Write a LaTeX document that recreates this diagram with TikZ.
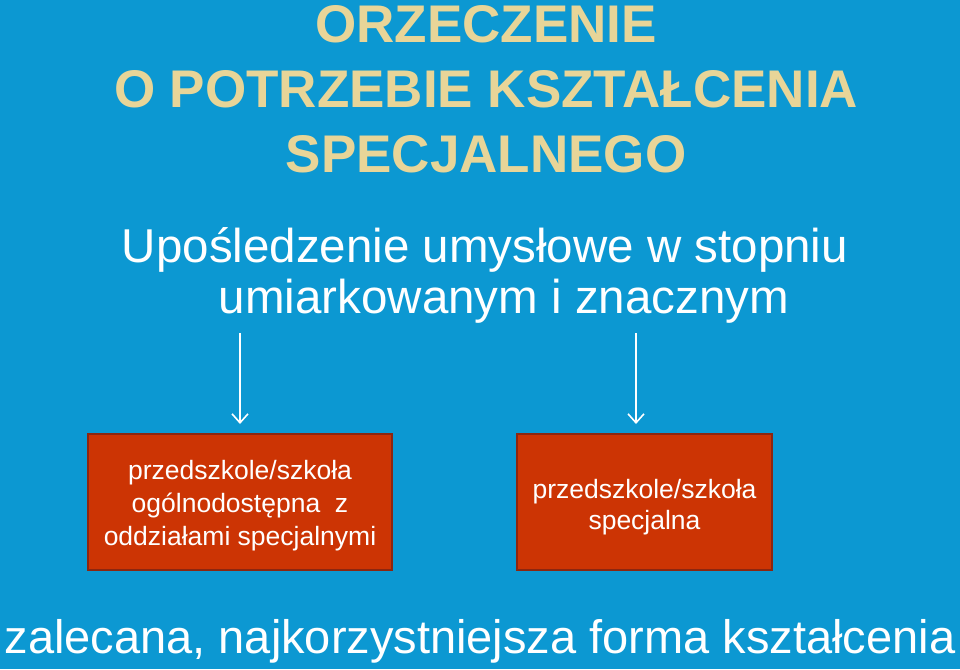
\documentclass[tikz,border=0pt]{standalone}
\usepackage{fontspec}
\setmainfont{Liberation Sans}
\usetikzlibrary{arrows.meta, positioning}
\definecolor{slideblue}{RGB}{12,152,210}
\definecolor{titlegold}{RGB}{232,213,152}
\definecolor{boxred}{RGB}{204,52,4}
\definecolor{boxedge}{RGB}{140,38,16}
\tikzset{>={Straight Barb[length=9pt,width=16pt]}}
\tikzset{formbox/.style={draw=boxedge, line width=2pt, fill=boxred, text=white, align=center}}
\tikzset{downarrow/.style={->, white, line width=1.6pt, shorten >=9pt}}

\begin{document}
\begin{tikzpicture}[x=1pt, y=-1pt]

% Background
\fill[slideblue] (0,0) rectangle (960,669);
\useasboundingbox (0,0) rectangle (960,669);

% Title
\node[anchor=base, text=titlegold, font=\fontsize{53}{65}\selectfont\bfseries, align=center]
	(title) at (486,172) {ORZECZENIE\\O POTRZEBIE KSZTAŁCENIA\\SPECJALNEGO};

% Subtitle
\node[anchor=base, text=white, font=\fontsize{47.5}{51}\selectfont] (sub1) at (485,262) {Upośledzenie umysłowe w stopniu};
\node[anchor=base, text=white, font=\fontsize{47.5}{51}\selectfont] (sub2) at (504,313) {umiarkowanym i znacznym};

% Boxes
\node[formbox, minimum width=304pt, minimum height=136pt]
	(general) at (240,502) {};
\node[text=white, align=center, font=\fontsize{26.5}{33}\selectfont]
	(generaltext) at (general) [yshift=-4pt] {przedszkole/szkoła\\ogólnodostępna\ \ z\\oddziałami specjalnymi};
\node[formbox, minimum width=255pt, minimum height=136pt]
	(special) at (644.5,502) {};
\node[text=white, align=center, font=\fontsize{26.5}{31}\selectfont]
	(specialtext) at (special) [yshift=-5pt] {przedszkole/szkoła\\specjalna};

% Arrows
\coordinate (from1) at (240,333);
\coordinate (from2) at (636,333);
\draw[downarrow] (from1) -- (from1 |- general.north);
\draw[downarrow] (from2) -- (from2 |- special.north);

% Bottom line
\node[anchor=base, text=white, font=\fontsize{47}{56}\selectfont] (advice) at (480,653) {zalecana, najkorzystniejsza forma kształcenia};

\end{tikzpicture}
\end{document}
